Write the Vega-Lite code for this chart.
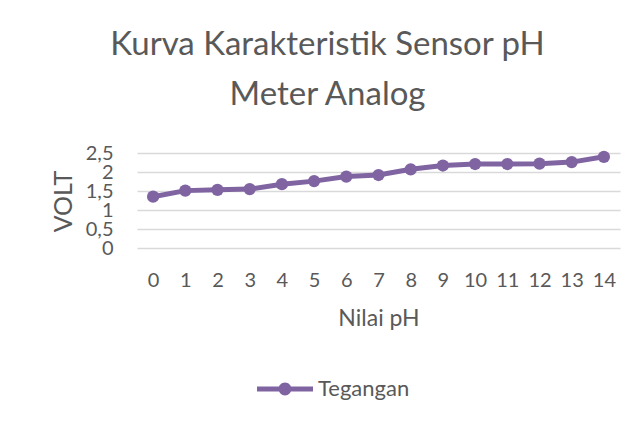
{
  "$schema": "https://vega.github.io/schema/vega-lite/v6.json",
  "width": 483,
  "height": 95,
  "autosize": {"type": "none"},
  "padding": {"left": 137, "top": 153, "right": 18, "bottom": 177},
  "background": "white",
  "title": {
    "text": ["Kurva Karakteristik Sensor pH", "Meter Analog"],
    "font": "Lato",
    "fontSize": 33,
    "fontWeight": "normal",
    "color": "#595959",
    "lineHeight": 50,
    "anchor": "middle",
    "dx": -51,
    "offset": 31
  },
  "data": {
    "values": [
      {"ph": "0", "volt": 1.35, "series": "Tegangan"},
      {"ph": "1", "volt": 1.51, "series": "Tegangan"},
      {"ph": "2", "volt": 1.53, "series": "Tegangan"},
      {"ph": "3", "volt": 1.55, "series": "Tegangan"},
      {"ph": "4", "volt": 1.68, "series": "Tegangan"},
      {"ph": "5", "volt": 1.76, "series": "Tegangan"},
      {"ph": "6", "volt": 1.88, "series": "Tegangan"},
      {"ph": "7", "volt": 1.92, "series": "Tegangan"},
      {"ph": "8", "volt": 2.07, "series": "Tegangan"},
      {"ph": "9", "volt": 2.17, "series": "Tegangan"},
      {"ph": "10", "volt": 2.21, "series": "Tegangan"},
      {"ph": "11", "volt": 2.21, "series": "Tegangan"},
      {"ph": "12", "volt": 2.22, "series": "Tegangan"},
      {"ph": "13", "volt": 2.26, "series": "Tegangan"},
      {"ph": "14", "volt": 2.40, "series": "Tegangan"}
    ]
  },
  "encoding": {
    "x": {
      "field": "ph",
      "type": "ordinal",
      "sort": null,
      "scale": {"type": "point", "padding": 0.5},
      "axis": {
        "title": "Nilai pH",
        "labelAngle": 0,
        "labelOverlap": false,
        "labelFont": "Lato",
        "labelFontSize": 20,
        "labelColor": "#595959",
        "labelPadding": 22,
        "ticks": false,
        "tickSize": 0,
        "domain": false,
        "grid": false,
        "titleFont": "Lato",
        "titleFontSize": 23,
        "titleFontWeight": "normal",
        "titleColor": "#595959",
        "titlePadding": 17
      }
    },
    "y": {
      "field": "volt",
      "type": "quantitative",
      "scale": {"domain": [0, 2.5], "nice": false},
      "axis": {
        "title": "VOLT",
        "values": [0, 0.5, 1, 1.5, 2, 2.5],
        "labelExpr": "replace(toString(datum.value), '.', ',')",
        "labelOverlap": false,
        "labelFont": "Lato",
        "labelFontSize": 20,
        "labelColor": "#595959",
        "labelPadding": 24,
        "ticks": false,
        "tickSize": 0,
        "domain": false,
        "grid": true,
        "gridColor": "#d9d9d9",
        "gridWidth": 1.3,
        "titleFont": "Lato",
        "titleFontSize": 25,
        "titleFontWeight": "normal",
        "titleColor": "#595959",
        "titleX": -74,
        "titleY": 48,
        "titleAngle": -90,
        "titleAlign": "center",
        "titleBaseline": "middle"
      }
    }
  },
  "layer": [
    {
      "mark": {"type": "line", "color": "#8064A2", "strokeWidth": 5}
    },
    {
      "mark": {"type": "point", "filled": true, "opacity": 1, "size": 150},
      "encoding": {
        "color": {
          "field": "series",
          "type": "nominal",
          "scale": {"range": ["#8064A2"]},
          "legend": {
            "title": null,
            "orient": "none",
            "legendX": 120,
            "legendY": 208,
            "padding": 0,
            "symbolType": "M-1,-0.09 L1,-0.09 L1,0.09 L-1,0.09 Z M-0.23,0 A0.23,0.23 0 1 1 0.23,0 A0.23,0.23 0 1 1 -0.23,0 Z",
            "symbolSize": 3136,
            "symbolStrokeWidth": 0,
            "symbolOpacity": 1,
            "labelFont": "Lato",
            "labelFontSize": 22,
            "labelColor": "#595959",
            "labelOffset": 5,
            "encode": {"symbols": {"update": {"size": {"value": 3136}, "fill": {"value": "#8064A2"}, "strokeWidth": {"value": 0}}}}
          }
        }
      }
    }
  ],
  "config": {"view": {"stroke": null}}
}
